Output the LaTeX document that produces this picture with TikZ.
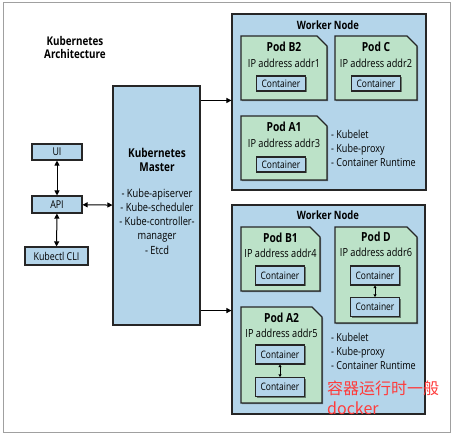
\documentclass[tikz,border=0pt]{standalone}
\usepackage{fontspec}
\setmainfont{Open Sans}[FakeStretch=0.82]
\newfontfamily\cjkfont{Noto Sans CJK SC}
\usetikzlibrary{arrows.meta,shadows}
\definecolor{boxblue}{HTML}{B4D5EA}
\definecolor{podgreen}{HTML}{BCE2C8}
\definecolor{framegray}{HTML}{A0A0A0}
\definecolor{cnred}{HTML}{FF3B3B}
\tikzset{
  shade/.style={drop shadow={shadow xshift=1.2pt,shadow yshift=-1.2pt,opacity=0.45,fill=black}},
  bluebox/.style={draw=black!85,line width=1.1pt,fill=boxblue,inner sep=0pt,shade},
  workerbox/.style={bluebox},
  podshape/.style={draw=black!85,line width=1.1pt,fill=podgreen,shade},
  contbox/.style={bluebox,font=\fontsize{10.3}{12}\selectfont,minimum width=49pt},
  podtitle/.style={font=\fontsize{12.5}{14}\selectfont\bfseries,inner sep=0pt},
  podip/.style={font=\fontsize{11.2}{13}\selectfont,inner sep=0pt},
  plain/.style={font=\fontsize{11}{14}\selectfont,inner sep=0pt,align=left},
  conn/.style={line width=1pt,{Triangle[length=5pt,width=5pt]}-{Triangle[length=5pt,width=5pt]}},
  oneway/.style={line width=1pt,-{Triangle[length=5pt,width=5pt]}},
  small/.style={line width=0.8pt,{Triangle[length=2.5pt,width=3pt]}-{Triangle[length=2.5pt,width=3pt]}},
}
\newcommand{\podpath}[5]{% name, x1,y1,x2,y2
  \node[inner sep=0pt,minimum width=#4pt-#2pt,minimum height=#5pt-#3pt] (#1) at ({(#2+#4)/2},{(#3+#5)/2}) {};
  \path[podshape] (#2,#5) -- (#2,#3) -- (#4-10,#3) -- (#4,#3+10) -- (#4,#5) -- cycle;
}
\begin{document}
\begin{tikzpicture}[x=1pt,y=-1pt]
\useasboundingbox (0,0) rectangle (454,437);
\fill[white] (0,0) rectangle (454,437);
\draw[framegray,line width=1pt] (3,2) rectangle (450,432);

\node[font=\fontsize{12}{13}\selectfont\bfseries,align=center,inner sep=0pt] (title) at (75,47) {Kubernetes\\Architecture};

% left column
\node[bluebox,minimum width=50pt,minimum height=16pt,font=\fontsize{10.8}{12}\selectfont] (ui) at (57,152) {UI};
\node[bluebox,minimum width=50pt,minimum height=17pt,font=\fontsize{10.8}{12}\selectfont] (api) at (57,204.5) {API};
\node[bluebox,minimum width=63pt,minimum height=18pt,font=\fontsize{10.8}{12}\selectfont] (cli) at (56.5,256) {Kubectl CLI};

% master
\node[bluebox,minimum width=87pt,minimum height=239pt] (master) at (156.5,205.5) {};
\node[font=\fontsize{12.2}{14}\selectfont\bfseries,align=center,inner sep=0pt] (mtitle) at (157,160) {Kubernetes\\Master};
\node[font=\fontsize{11.3}{14.2}\selectfont,align=center,inner sep=0pt] (mlist) at (157,221.5) {- Kube-apiserver\\- Kube-scheduler\\- Kube-controller-\\manager\\- Etcd};

% worker 1
\node[workerbox,minimum width=194pt,minimum height=176pt] (w1) at (329,102) {};
\node[font=\fontsize{11.5}{13}\selectfont\bfseries,inner sep=0pt] (w1t) at (328,25) {Worker Node};
\podpath{pb2}{241}{36}{327}{100}
\node[podtitle] at (284,47) {Pod B2};
\node[podip] at (284,63) {IP address addr1};
\node[contbox,minimum height=15pt] (cb2) at (281,83.5) {Container};
\podpath{pc}{335}{36}{417}{100}
\node[podtitle] at (376,47) {Pod C};
\node[podip] at (376,63) {IP address addr2};
\node[contbox,minimum height=15pt] (cc) at (376,83.5) {Container};
\podpath{pa1}{241}{116}{327}{180}
\node[podtitle] at (284,127) {Pod A1};
\node[podip] at (284,143) {IP address addr3};
\node[contbox,minimum height=15pt] (ca1) at (281,164.5) {Container};
\node[plain,anchor=north west] (w1l) at (331,129.5) {- Kubelet\\- Kube-proxy\\- Container Runtime};

% worker 2
\node[workerbox,minimum width=193pt,minimum height=209pt] (w2) at (328.5,309.5) {};
\node[font=\fontsize{11.5}{13}\selectfont\bfseries,inner sep=0pt] (w2t) at (328,215) {Worker Node};
\podpath{pb1}{241}{227}{320}{291}
\node[podtitle] at (280.5,238) {Pod B1};
\node[podip] at (280.5,253) {IP address addr4};
\node[contbox,minimum height=19pt] (cb1) at (280,275.5) {Container};
\podpath{pd}{335}{227}{417}{323}
\node[podtitle] at (376,237) {Pod D};
\node[podip] at (376,252) {IP address addr6};
\node[contbox,minimum height=19pt] (cd1) at (375,275.5) {Container};
\node[contbox,minimum height=19pt] (cd2) at (375,307) {Container};
\podpath{pa2}{241}{307}{322}{403}
\node[podtitle] at (281.5,318) {Pod A2};
\node[podip] at (281.5,333) {IP address addr5};
\node[contbox,minimum height=19pt] (ca21) at (280,354.5) {Container};
\node[contbox,minimum height=19pt] (ca22) at (280,387) {Container};
\node[plain,anchor=north west] (w2l) at (331,332.5) {- Kubelet\\- Kube-proxy\\- Container Runtime};
\node[anchor=west,inner sep=0pt,text=cnred,font=\cjkfont\fontsize{16}{20}\selectfont,align=left] (note) at (327,398) {容器运行时一般\\docker};

% connectors
\draw[conn] (ui) -- (api);
\draw[conn] (api) -- (cli);
\draw[conn] (api) -- (master);
\coordinate (m1) at ([yshift=-15pt]master.north east);
\coordinate (m2) at ([yshift=15pt]master.south east);
\draw[oneway] (m1) -- (m1 -| w1.west);
\draw[oneway] (m2) -- (m2 -| w2.west);
\draw[small] (cd1) -- (cd2);
\draw[small] (ca21) -- (ca22);
\end{tikzpicture}
\end{document}
